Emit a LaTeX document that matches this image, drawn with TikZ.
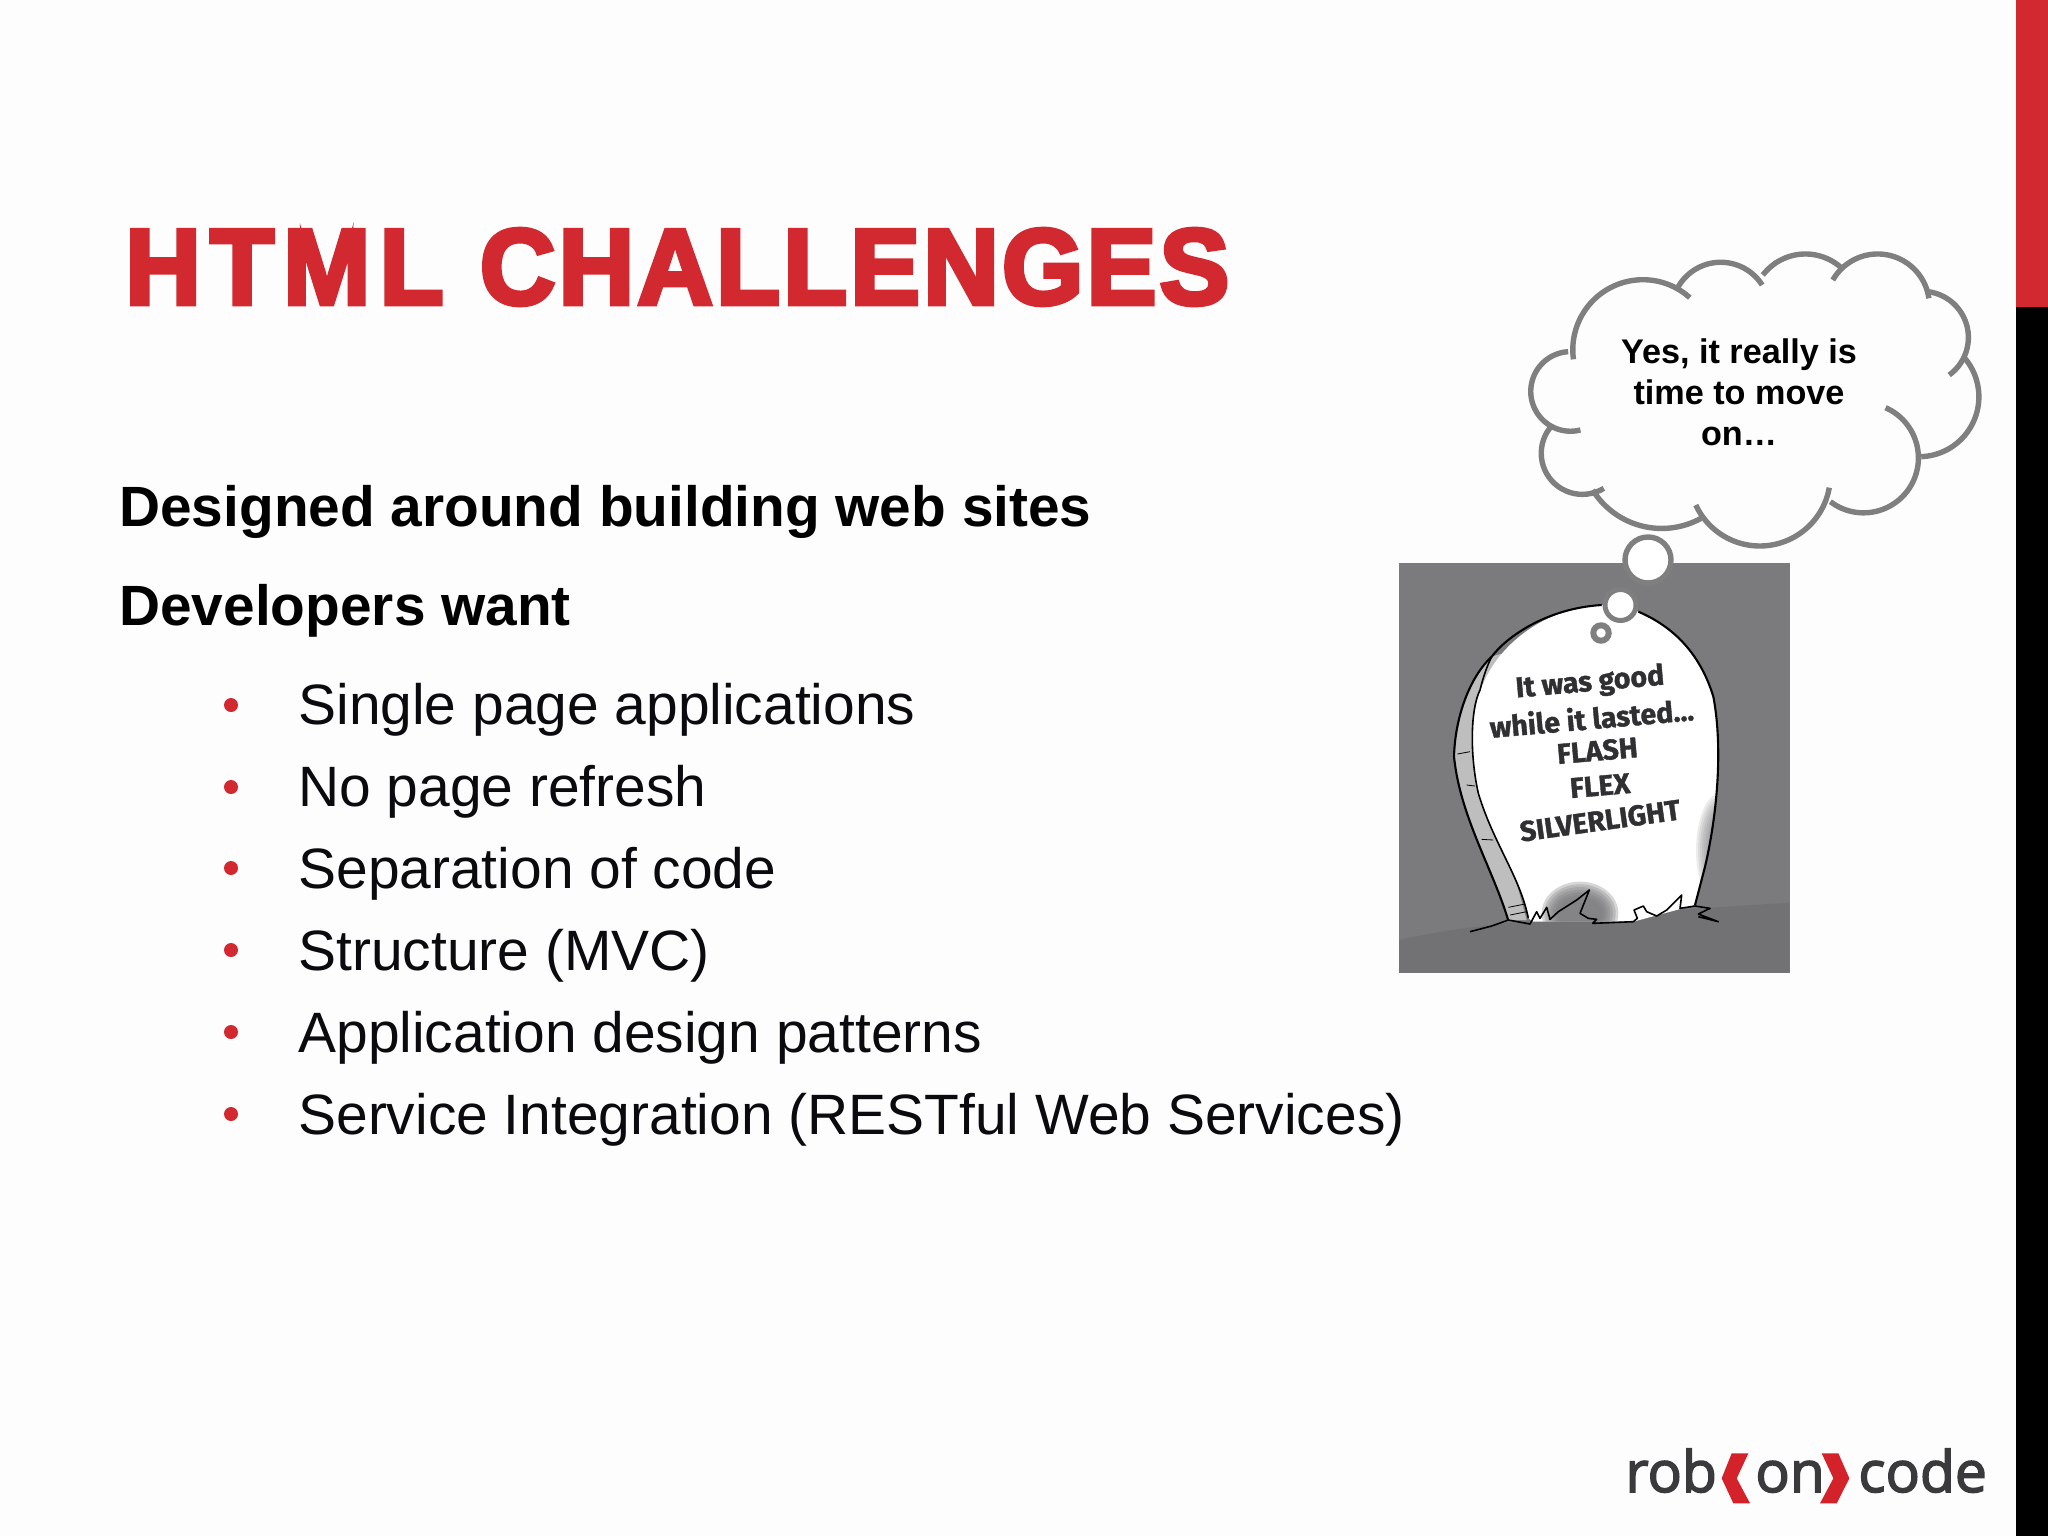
\documentclass[tikz,border=0pt]{standalone}
\usepackage{fontspec}
\setmainfont{Liberation Sans}
\newfontfamily\stonefont[BoldFeatures={FakeBold=1.3}]{Fira Sans}
\newfontfamily\logofont[FakeBold=2.6]{Open Sans}
\definecolor{slidebg}{HTML}{FDFDFD}
\definecolor{slidered}{HTML}{D2282F}
\definecolor{cloudgray}{HTML}{7F7F7F}
\definecolor{photogray}{HTML}{7B7A7D}
\definecolor{grounddark}{HTML}{727174}
\definecolor{bandgray}{HTML}{BEBEBE}
\definecolor{bodyblack}{HTML}{0A0A0F}
\definecolor{logogray}{HTML}{3A3A3C}
\definecolor{logored}{HTML}{D3222A}
\definecolor{stoneink}{HTML}{303032}
\newcommand\lobe[6]{%
 \pgfmathsetmacro\ax{#1*1.0486/100}\pgfmathsetmacro\ay{#2/100}%
 \pgfmathsetmacro\bx{#3*1.0486/100}\pgfmathsetmacro\by{#4/100}%
 \pgfmathsetmacro\cx{#5*1.0486/100}\pgfmathsetmacro\cy{#6/100}%
 \pgfmathsetmacro\dd{2*(\ax*(\by-\cy)+\bx*(\cy-\ay)+\cx*(\ay-\by))}%
 \pgfmathsetmacro\na{\ax*\ax+\ay*\ay}\pgfmathsetmacro\nb{\bx*\bx+\by*\by}\pgfmathsetmacro\nc{\cx*\cx+\cy*\cy}%
 \pgfmathsetmacro\ux{(\na*(\by-\cy)+\nb*(\cy-\ay)+\nc*(\ay-\by))/\dd}%
 \pgfmathsetmacro\uy{(\na*(\cx-\bx)+\nb*(\ax-\cx)+\nc*(\bx-\ax))/\dd}%
 \pgfmathsetmacro\rr{sqrt((\ax-\ux)*(\ax-\ux)+(\ay-\uy)*(\ay-\uy))}%
 \pgfmathsetmacro\aa{atan2(\ay-\uy,\ax-\ux)}%
 \pgfmathsetmacro\ab{atan2(\by-\uy,\bx-\ux)}%
 \pgfmathsetmacro\ac{atan2(\cy-\uy,\cx-\ux)}%
 \pgfmathsetmacro\dab{mod(\ab-\aa+720,360)}%
 \pgfmathsetmacro\dac{mod(\ac-\aa+720,360)}%
 \pgfmathsetmacro\sweep{\dab<\dac ? \dac : \dac-360}%
 \draw[cloudline] plot[smooth,domain=0:1,samples=28,variable=\t]
   ({1500+(\ux+\rr*cos(\aa+\t*\sweep))*100/3},{230+(\uy+\rr*sin(\aa+\t*\sweep))*100/3});%
}
\tikzset{
 cloudline/.style={draw=cloudgray,line width=2.7pt},
 bubble/.style={draw=cloudgray,fill=white},
 bodytext/.style={anchor=base west,inner sep=0pt,text=bodyblack,font=\fontsize{28.46}{34}\selectfont},
 headtext/.style={anchor=base west,inner sep=0pt,text=black,font=\fontsize{28.4}{32}\selectfont\bfseries},
 bulletdot/.style={circle,fill=slidered,inner sep=0pt,minimum size=7pt},
 cloudtext/.style={anchor=base,inner sep=0pt,text=black,font=\fontsize{17.1}{20}\selectfont\bfseries},
 stonetext/.style={inner sep=0pt,text=stoneink,font=\stonefont\fontsize{14.3}{16}\selectfont\bfseries},
 stoneline/.style={draw=black,line width=.6pt,line join=round},
 logotext/.style={anchor=base west,inner sep=0pt,text=logogray,font=\logofont\fontsize{28.5}{32}\selectfont},
}
\begin{document}
\begin{tikzpicture}[x=.5pt,y=-.5pt]
\useasboundingbox (0,0) rectangle (2048,1536);
\fill[slidebg] (0,0) rectangle (2048,1536);
% side bar
\fill[slidered] (2016,0) rectangle (2048,307);
\fill[black] (2016,307) rectangle (2048,1536);
% title
\node[anchor=base west,inner sep=0pt,text=slidered] (title) at (125,304)
  {\resizebox{552pt}{37.5pt}{\fontspec{Liberation Sans}[FakeBold=4.3,LetterSpace=3.2]\fontsize{50}{60}\selectfont\bfseries H\kern4.5pt T\kern4.5pt M\kern4.5pt L\hspace{2pt} CHALLENGES}};
% left text
\node[headtext] (h1) at (119,526) {Designed around building web sites};
\node[headtext] (h2) at (119,625) {Developers want};
\node[bodytext] (b1) at (298,724) {Single page applications};
\node[bodytext] (b2) at (298,806) {No page refresh};
\node[bodytext] (b3) at (298,888) {Separation of code};
\node[bodytext] (b4) at (298,970) {Structure (MVC)};
\node[bodytext] (b5) at (298,1052) {Application design patterns};
\node[bodytext] (b6) at (298,1134) {Service Integration (RESTful Web Services)};
\foreach \yy/\nm in {705/d1,787/d2,868/d3,950/d4,1032/d5,1114/d6}
  \node[bulletdot] (\nm) at (231,\yy) {};
% photo
\fill[photogray] (1399,563) rectangle (1790,973);
\begin{scope}[shift={(1380,550)},x=.16667pt,y=-.16667pt]
 \fill[grounddark] (57,1170) .. controls (300,1110) and (800,1085) .. (1229,1058) -- (1229,1268) -- (57,1268) -- cycle;
 % side band
 \path[fill=bandgray] (385,1110) .. controls (340,960) and (240,800) .. (222,620) .. controls (225,500) and (270,380) .. (335,320) -- (400,300) -- (300,600) -- (440,1110) -- cycle;
 % face
 \path[fill=white,save path=\stonepath] (445,1105) .. controls (420,980) and (340,880) .. (295,730)
   .. controls (270,620) and (270,480) .. (310,400)
   .. controls (360,280) and (500,170) .. (670,165)
   .. controls (830,165) and (960,300) .. (1000,440)
   .. controls (1030,600) and (1010,800) .. (975,950)
   -- (945,1065) -- (760,1115) -- (460,1115) -- cycle;
 \begin{scope}
  \clip[use path=\stonepath];
  \foreach \q in {0,...,6} {
   \fill[photogray,opacity=.3] (600,1090) ellipse [x radius={115-8*\q},y radius={95-8*\q}];
   \fill[photogray,opacity=.14] (1020,900) ellipse [x radius={72-6*\q},y radius={170-10*\q}];
  }
 \end{scope}
 % outlines
 \draw[stoneline,line width=1.05pt] (385,1112) .. controls (340,960) and (240,800) .. (222,620) .. controls (225,500) and (270,380) .. (335,320) .. controls (380,260) and (500,175) .. (665,165);
 \draw[stoneline,line width=1.05pt] (775,185) .. controls (880,230) and (960,310) .. (1000,440) .. controls (1030,600) and (1010,800) .. (975,950) -- (945,1065);
 \draw[stoneline,line width=.8pt] (445,1105) .. controls (420,980) and (340,880) .. (295,730) .. controls (270,620) and (270,480) .. (300,420) .. controls (310,380) and (320,350) .. (335,320);
 \draw[stoneline,line width=.4pt] (232,612) -- (270,605) (260,705) -- (285,708) (305,868) -- (340,870) (385,1072) -- (435,1062) (390,1095) -- (440,1085);
 % grass
 \draw[stoneline,line width=.8pt] (270,1145) -- (335,1128) -- (385,1110) -- (450,1122) -- (470,1085) -- (480,1105) -- (500,1072) -- (510,1108) -- (535,1085) -- (590,1050) -- (628,1020) -- (600,1090) -- (625,1105) -- (650,1108) -- (638,1120) -- (760,1115) -- (772,1105) -- (762,1080) -- (790,1068) -- (800,1085) -- (830,1098) -- (860,1080) -- (905,1035) -- (900,1075) -- (945,1068) -- (990,1075) -- (955,1092) -- (1015,1115) -- (955,1100);
 % stone text
 \node[stonetext,rotate=5] (s1) at (630,400) {It was good};
 \node[stonetext,rotate=5] (s2) at (635,503) {while it lasted...};
 \node[stonetext,rotate=5] (s3) at (652,602) {FLASH};
 \node[stonetext,rotate=5] (s4) at (660,707) {FLEX};
 \node[stonetext,rotate=8] (s5) at (660,812) {SILVERLIGHT};
\end{scope}
% thought cloud
\lobe{210}{388}{390}{150}{543}{203}
\lobe{510}{170}{640}{97}{750}{165}
\lobe{752}{135}{870}{72}{975}{112}
\lobe{952}{150}{1085}{72}{1227}{205}
\lobe{1225}{185}{1340}{320}{1285}{435}
\lobe{1330}{385}{1370}{500}{1205}{680}
\lobe{1103}{533}{1197}{680}{945}{815}
\lobe{942}{773}{745}{948}{560}{825}
\lobe{575}{865}{450}{895}{265}{780}
\lobe{297}{775}{118}{665}{150}{585}
\lobe{230}{600}{88}{480}{195}{365}
\node[cloudtext] (c1) at (1739,363) {Yes, it really is};
\node[cloudtext] (c2) at (1739,404) {time to move};
\node[cloudtext] (c3) at (1739,445) {on…};
% bubbles
\draw[bubble,line width=2.7pt] (1648,560) circle [radius=23];
\draw[bubble,line width=2.5pt] (1620.5,605) circle [radius=15.5];
\draw[bubble,line width=3pt] (1601,633) circle [radius=7.7];
% logo
\node[logotext] (l1) at (1625,1492) {rob};
\node[logotext] (l2) at (1755,1492) {on};
\node[logotext] (l3) at (1858,1492) {code};
\begin{scope}[shift={(1600,1420)},x=.16667pt,y=-.16667pt]
 \fill[logored] (445,100) -- (395,100) -- (365,175) -- (400,250) -- (450,250) -- (410,175) -- cycle;
 \fill[logored] (665,100) -- (715,100) -- (748,175) -- (710,250) -- (660,250) -- (700,175) -- cycle;
\end{scope}
\end{tikzpicture}
\end{document}
